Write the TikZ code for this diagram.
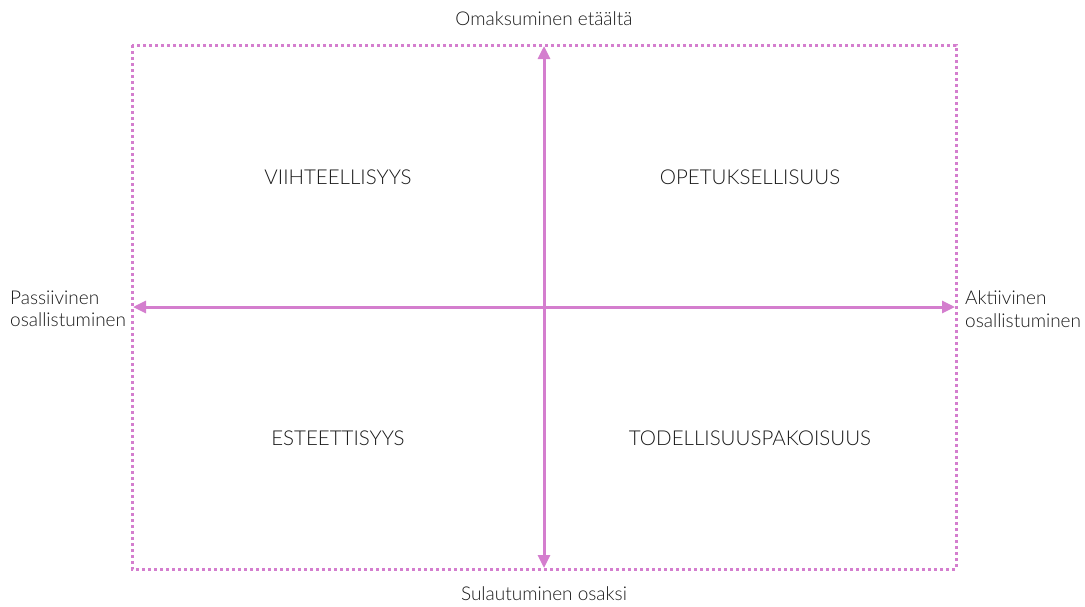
\documentclass[tikz,border=0pt]{standalone}
\usepackage{fontspec}
\setmainfont{Lato Light}
\usetikzlibrary{arrows.meta}
\definecolor{pinkv}{RGB}{212,126,206}
\begin{document}
\begin{tikzpicture}[x=1pt,y=-1pt,
  axis/.style={draw=pinkv,line width=3pt,{Triangle[length=13pt,width=12pt]}-{Triangle[length=13pt,width=12pt]}},
  frame/.style={draw=pinkv,line width=3pt,dash pattern=on 3pt off 3pt},
  quad/.style={font=\fontsize{20.5}{24}\selectfont,text=black!90},
  lab/.style={font=\fontsize{19}{22.5}\selectfont,text=black!90,inner sep=0pt}]
\useasboundingbox (0,0) rectangle (1085,606);
\draw[frame] (132,45) rectangle (956,569);
\coordinate (top) at (544,46);
\coordinate (bot) at (544,568);
\coordinate (lft) at (133,307);
\coordinate (rgt) at (955,307);
\draw[axis] (bot) -- (top);
\draw[axis] (lft) -- (rgt);
\node[quad] (q1) at (338,177) {VIIHTEELLISYYS};
\node[quad] (q2) at (750,177) {OPETUKSELLISUUS};
\node[quad] (q3) at (338,438) {ESTEETTISYYS};
\node[quad] (q4) at (750,438) {TODELLISUUSPAKOISUUS};
\node[lab] (t) at (544,19) {Omaksuminen etäältä};
\node[lab] (b) at (544,594) {Sulautuminen osaksi};
\node[lab,anchor=west,align=left] (l) at (10,309) {Passiivinen\\osallistuminen};
\node[lab,anchor=west,align=left] (r) at (965,309) {Aktiivinen\\osallistuminen};
\end{tikzpicture}
\end{document}
